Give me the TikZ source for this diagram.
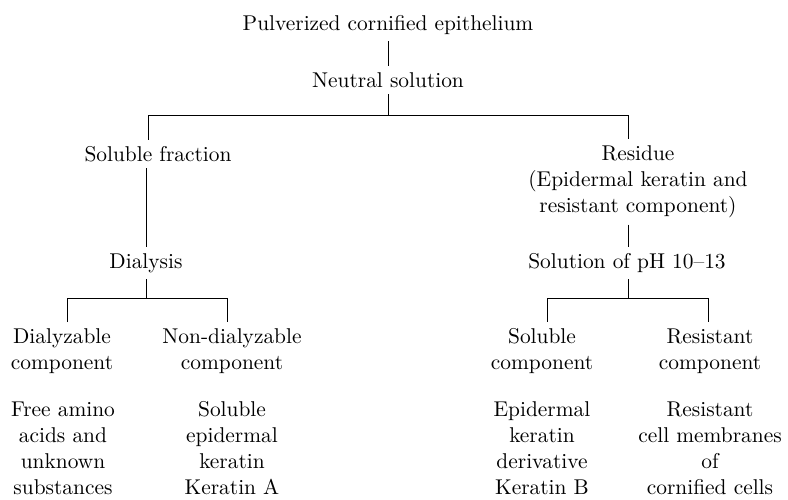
\documentclass[tikz,border=0pt]{standalone}
\usepackage{tikz}
\usetikzlibrary{calc}
\begin{document}
\begin{tikzpicture}[x=0.5pt,y=-0.5pt,
	every node/.style={align=center,inner sep=3pt,font=\fontsize{10.7}{13}\selectfont},
	line width=0.5pt]
	\useasboundingbox (0,0) rectangle (788,499);
	% text
	\node (pulv) at (388,25) {Pulverized cornified epithelium};
	\node (neut) at (388,80) {Neutral solution};
	\node (solfrac) at (158,154) {Soluble fraction};
	\node (resid) at (638,182) {Residue\\(Epidermal keratin and\\resistant component)};
	\node (dial) at (146,263) {Dialysis};
	\node (phsol) at (627,263) {Solution of pH 10--13};
	\node (dialc) at (62,351) {Dialyzable\\component};
	\node (nondc) at (232,351) {Non-dialyzable\\component};
	\node (solc) at (542,351) {Soluble\\component};
	\node (resc) at (710,351) {Resistant\\component};
	\node (freeam) at (63,448) {Free amino\\acids and\\unknown\\substances};
	\node (keratA) at (232,448) {Soluble\\epidermal\\keratin\\Keratin A};
	\node (keratB) at (542,448) {Epidermal\\keratin\\derivative\\Keratin B};
	\node (cellm) at (710,448) {Resistant\\cell membranes\\of\\cornified cells};
	% branch points
	\coordinate (br1) at (388,115);
	\coordinate (br1l) at (148,115);
	\coordinate (br1r) at (628,115);
	\coordinate (br2) at (146,298);
	\coordinate (br2l) at (67,298);
	\coordinate (br2r) at (227,298);
	\coordinate (br3) at (628,298);
	\coordinate (br3l) at (547,298);
	\coordinate (br3r) at (708,298);
	% lines
	\draw (pulv) -- (neut);
	\draw (neut) -- (neut |- br1);
	\draw (br1l |- solfrac.north) -- (br1l) -- (br1r) -- (br1r |- resid.north);
	\draw (solfrac.south -| dial) -- (dial);
	\draw (resid.south -| br3) -- (phsol.north -| br3);
	\draw (dial) -- (dial |- br2);
	\draw (br2l |- dialc.north) -- (br2l) -- (br2r) -- (br2r |- nondc.north);
	\draw (phsol.south -| br3) -- (br3);
	\draw (br3l |- solc.north) -- (br3l) -- (br3r) -- (br3r |- resc.north);
\end{tikzpicture}
\end{document}
